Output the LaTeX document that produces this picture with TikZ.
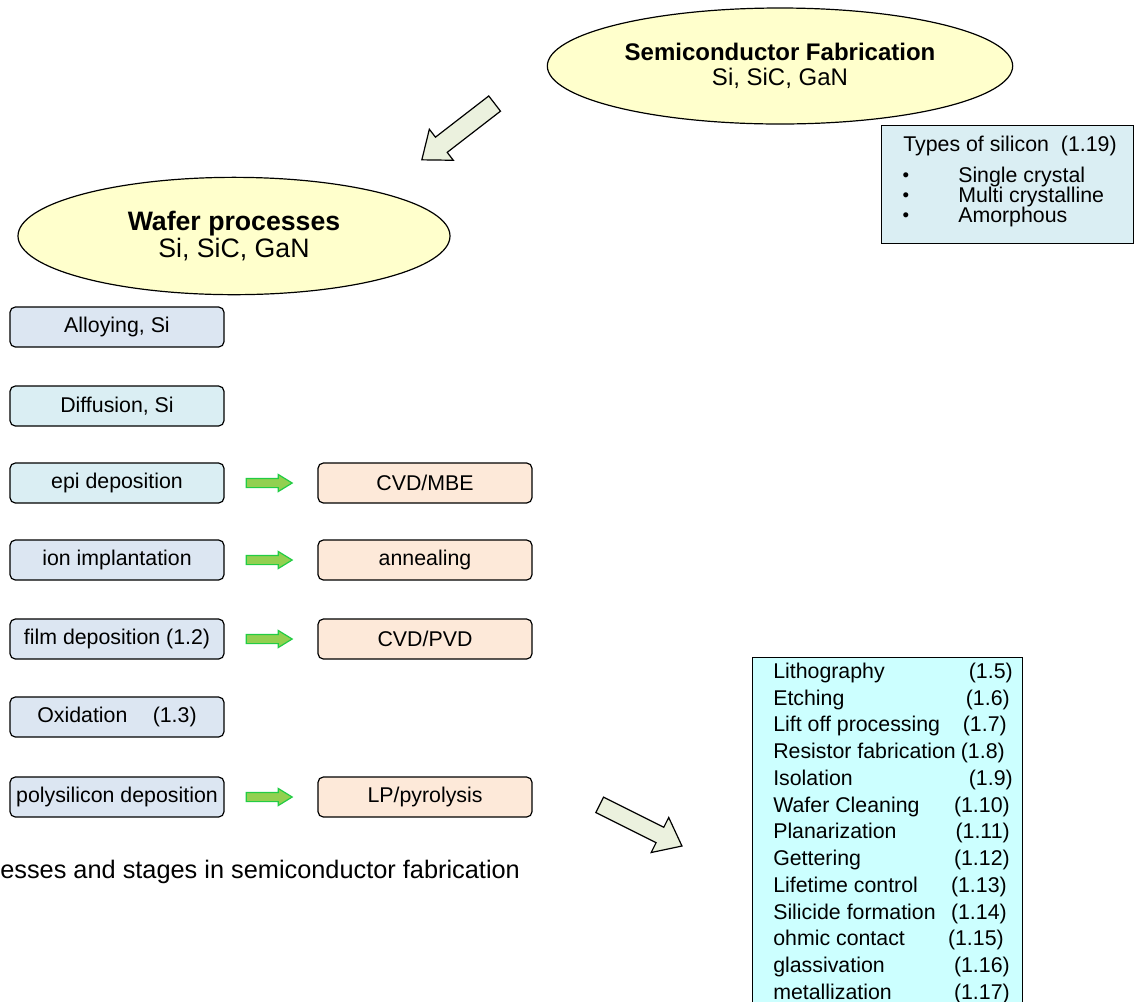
\documentclass[tikz,border=0pt]{standalone}
\usepackage{fontspec}
\setmainfont{Liberation Sans}
\usetikzlibrary{shapes.geometric,shapes.arrows}

\definecolor{ellfill}{HTML}{FFFFCC}
\definecolor{boxblue}{HTML}{DCE6F2}
\definecolor{boxaqua}{HTML}{DAEEF3}
\definecolor{boxpeach}{HTML}{FDE9D9}
\definecolor{listfill}{HTML}{CCFFFF}
\definecolor{bigfill}{HTML}{EBF1DE}
\definecolor{greenfill}{HTML}{92D050}
\definecolor{greenline}{HTML}{22CC44}

\begin{document}
\begin{tikzpicture}[x=0.75pt, y=-0.75pt,
    ellbox/.style={ellipse, draw, line width=0.9pt, fill=ellfill, inner sep=0pt, align=center},
    stepbox/.style={draw, rounded corners=4pt, line width=0.9pt, minimum width=160.5pt, minimum height=30pt, inner sep=0pt, font=\fontsize{16}{19}\selectfont},
    greenarrow/.style={single arrow, draw=greenline, fill=greenfill, line width=0.9pt, inner sep=0pt, inner ysep=3pt, single arrow head extend=3pt, single arrow tip angle=63, minimum height=34.5pt, pos=0.44},
    bigarrow/.style={single arrow, draw, fill=bigfill, line width=0.9pt, inner sep=0pt, single arrow tip angle=77, minimum height=69pt},
    rowtext/.style={inner sep=0pt, text height=11.5pt, text depth=3.5pt, font=\fontsize{16}{19}\selectfont}
]
    \useasboundingbox (0,0) rectangle (1134,1001);

    % The two ellipses
    \node[ellbox, minimum width=349pt, minimum height=87pt, font=\fontsize{18}{19}\selectfont] (semi) at (780,66)
        {\textbf{Semiconductor Fabrication}\\Si, SiC, GaN};
    \node[ellbox, minimum width=324pt, minimum height=88pt, font=\fontsize{20}{20.5}\selectfont] (wafer) at (234,236)
        {\textbf{Wafer processes}\\Si, SiC, GaN};

    % Big block arrows
    \node[bigarrow, inner ysep=6.75pt, single arrow head extend=7.5pt, rotate=217.7] (down) at (463,128) {};
    \node[bigarrow, inner ysep=6pt, single arrow head extend=8.25pt, rotate=-26.6] (across) at (636,823) {};

    % Wafer process steps
    \node[stepbox, fill=boxblue] (alloy) at (117,327) {Alloying, Si};
    \node[stepbox, fill=boxaqua] (diff) at (117,406) {Diffusion, Si};
    \node[stepbox, fill=boxaqua] (epi) at (117,483) {epi deposition};
    \node[stepbox, fill=boxblue] (ion) at (117,560) {ion implantation};
    \node[stepbox, fill=boxblue] (film) at (117,639) {film deposition (1.2)};
    \node[stepbox, fill=boxblue] (oxid) at (117,717) {Oxidation\hspace{19pt}(1.3)};
    \node[stepbox, fill=boxblue] (poly) at (117,797) {polysilicon deposition};

    % Methods used for each step
    \node[stepbox, fill=boxpeach] (cvdmbe) at (425,483) {CVD/MBE};
    \node[stepbox, fill=boxpeach] (anneal) at (425,560) {annealing};
    \node[stepbox, fill=boxpeach] (cvdpvd) at (425,639) {CVD/PVD};
    \node[stepbox, fill=boxpeach] (lp) at (425,797) {LP/pyrolysis};

    % Green arrows between step and method
    \path (epi) -- node[greenarrow] {} (cvdmbe);
    \path (ion) -- node[greenarrow] {} (anneal);
    \path (film) -- node[greenarrow] {} (cvdpvd);
    \path (poly) -- node[greenarrow] {} (lp);

    % Types of silicon
    \node[draw, fill=boxaqua, line width=0.9pt, minimum width=189pt, minimum height=88.5pt, anchor=north west] (types) at (881,125) {};
    \node[rowtext, anchor=west] at (903,146) {Types of silicon\ \ (1.19)};
    \foreach \item [count=\i] in {Single crystal, Multi crystalline, Amorphous} {
        \node[font=\fontsize{14}{16}\selectfont, inner sep=0pt] at (906,157+20*\i) {•};
        \node[rowtext, anchor=west] at (958,157+20*\i) {\item};
    }

    % Further processing steps
    \node[draw, fill=listfill, line width=0.9pt, minimum width=202.5pt, minimum height=270pt, anchor=north west] (steps) at (752,657) {};
    \foreach \name/\num/\nx [count=\i] in {Lithography/1.5/1013, Etching/1.6/1010, Lift off processing/1.7/1007,
        Resistor fabrication/1.8/1005, Isolation/1.9/1013, Wafer Cleaning/1.10/1010, Planarization/1.11/1010,
        Gettering/1.12/1010, Lifetime control/1.13/1007, Silicide formation/1.14/1007, ohmic contact/1.15/1004,
        glassivation/1.16/1010, metallization/1.17/1010} {
        \node[rowtext, anchor=west] at (773,646.25+26.75*\i) {\name};
        \node[rowtext, anchor=east] at (\nx,646.25+26.75*\i) {(\num)};
    }

    % Caption, cut at the left edge
    \node[inner sep=0pt, anchor=base west, font=\fontsize{19}{22}\selectfont] (caption) at (0,878) {esses and stages in semiconductor fabrication};
\end{tikzpicture}
\end{document}
